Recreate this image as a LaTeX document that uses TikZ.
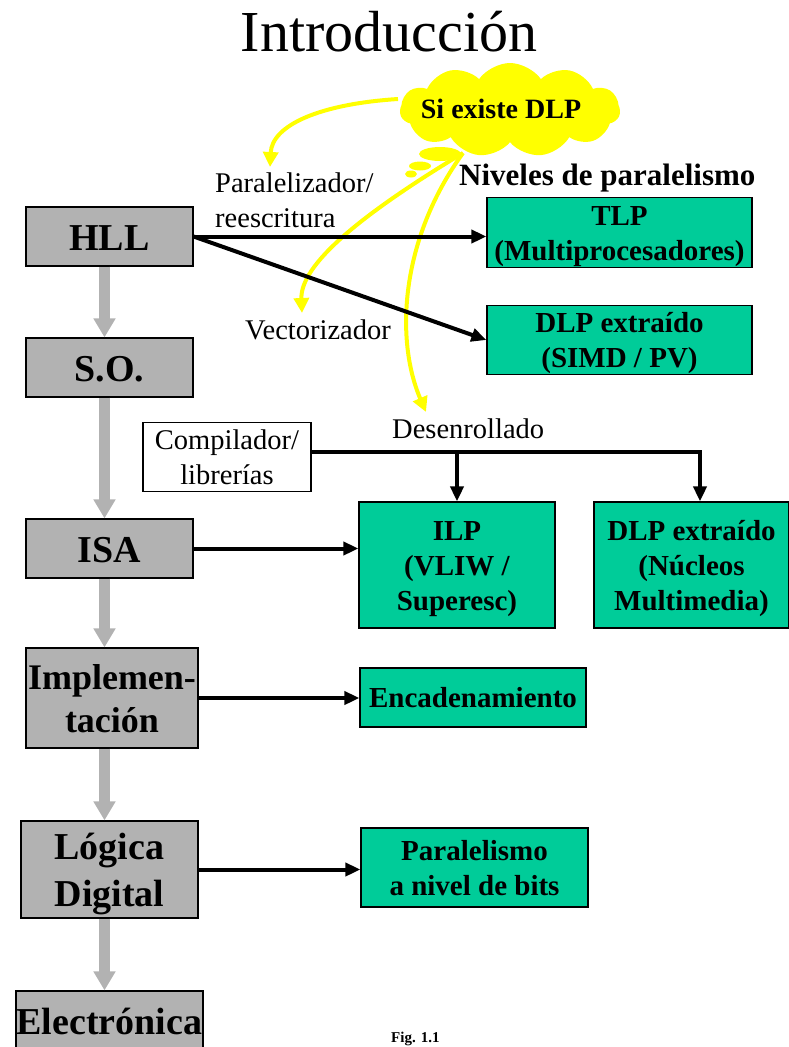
\documentclass[tikz,border=0pt]{standalone}
\usepackage{fontspec}
\setmainfont{Liberation Serif}
\usetikzlibrary{arrows.meta,shapes.symbols}
\definecolor{boxgray}{RGB}{178,178,178}
\definecolor{levelgreen}{RGB}{0,204,153}
\definecolor{hintyellow}{RGB}{255,255,0}
% fixed-height strut so every line box has the same height and depth
\newcommand\lnstrut{\rule[-0.23em]{0pt}{1.18em}}

\begin{document}
\begin{tikzpicture}[x=1pt,y=-1pt,
  box/.style={rectangle, draw=black, line width=1.2pt, inner sep=0pt, align=center},
  graybox/.style={box, fill=boxgray, font=\fontsize{38}{45}\selectfont\bfseries},
  greenbox/.style={box, fill=levelgreen, font=\fontsize{29}{35}\selectfont\bfseries},
  lbl/.style={inner sep=0pt, font=\fontsize{28.5}{35}\selectfont},
  flow/.style={line width=4pt, -{Triangle[width=13pt,length=15pt]}},
  down/.style={draw=boxgray, line width=11pt, -{Triangle[width=21pt,length=19pt]}},
  hint/.style={draw=hintyellow, line width=4pt, -{Triangle[width=15pt,length=15pt]}},
  puff/.style={fill=hintyellow, draw=none},
]
\useasboundingbox (0,0) rectangle (789,1047);

% title
\node[anchor=base, inner sep=0pt, font=\fontsize{58}{60}\selectfont] (title) at (389,51) {Introducción};

% abstraction levels (left column)
\node[graybox, minimum width=167pt, minimum height=59pt] (hll) at (109.5,236.5) {\lnstrut HLL};
\node[graybox, minimum width=167pt, minimum height=59pt] (so) at (109.5,367.5) {\lnstrut S.O.};
\node[graybox, minimum width=167pt, minimum height=59pt] (isa) at (109.5,548.5) {\lnstrut ISA};
\node[graybox, minimum width=172pt, minimum height=100pt, font=\fontsize{36}{42}\selectfont\bfseries] (impl) at (112,698) {\lnstrut Implemen-\\\lnstrut tación};
\node[graybox, minimum width=177pt, minimum height=97pt, font=\fontsize{38}{47}\selectfont\bfseries] (logica) at (109.5,869.5) {\lnstrut Lógica\\\lnstrut Digital};
\node[graybox, minimum width=187pt, minimum height=59pt] (elec) at (109.5,1020.5) {\lnstrut Electrónica};

% parallelism levels
\node[greenbox, minimum width=265pt, minimum height=69pt] (tlp) at (619.5,232.5) {\lnstrut TLP\\\lnstrut (Multiprocesadores)};
\node[greenbox, minimum width=265pt, minimum height=68pt] (dlpv) at (619.5,340) {\lnstrut DLP extraído\\\lnstrut (SIMD / PV)};
\node[greenbox, minimum width=196pt, minimum height=126pt] (ilp) at (457,565) {\lnstrut ILP\\\lnstrut (VLIW /\\\lnstrut Superesc)};
\node[greenbox, minimum width=195pt, minimum height=126pt] (dlpm) at (691.5,565) {\lnstrut DLP extraído\\\lnstrut (Núcleos\\\lnstrut Multimedia)};
\node[greenbox, minimum width=226pt, minimum height=59pt] (enc) at (473,697.5) {\lnstrut Encadenamiento};
\node[greenbox, minimum width=227pt, minimum height=79pt] (bits) at (474.5,867.5) {\lnstrut Paralelismo\\\lnstrut a nivel de bits};

% compiler box
\node[box, lbl, fill=white, line width=1.2pt, minimum width=168pt, minimum height=68pt] (comp) at (227,457) {\lnstrut Compilador/\\\lnstrut librerías};

% labels
\node[lbl, anchor=north west, align=left] (paral) at (215,165) {\lnstrut Paralelizador/\\\lnstrut reescritura};
\node[lbl, anchor=base west] (vect) at (245,339) {Vectorizador};
\node[lbl, anchor=base west] (desen) at (392,438) {Desenrollado};
\node[anchor=base west, inner sep=0pt, font=\fontsize{31}{35}\selectfont\bfseries] (niveles) at (459,185) {Niveles de paralelismo};
\node[anchor=base west, inner sep=0pt, font=\fontsize{15}{17}\selectfont\bfseries] (fig) at (391,1042.5) {Fig. 1.1};

% gray arrows between levels
\coordinate (ax) at (104.5,0);
\draw[down] (ax |- hll.south) -- (ax |- so.north);
\draw[down] (ax |- so.south) -- (ax |- isa.north);
\draw[down] (ax |- isa.south) -- (ax |- impl.north);
\draw[down] (ax |- impl.south) -- (ax |- logica.north);
\draw[down] (ax |- logica.south) -- (ax |- elec.north);

% yellow hints coming out of the cloud
\coordinate (cloudleft) at (398,99);
\coordinate (puffroot) at (463,153);
\coordinate (hintA) at (270,167);
\coordinate (hintB) at (302,313);
\coordinate (hintC) at (426,412);
\draw[hint] (cloudleft) .. controls (320,104) and (272,125) .. (hintA);
\draw[hint] (puffroot) .. controls (360,215) and (300,265) .. (hintB);
\draw[hint] (puffroot) .. controls (400,240) and (395,340) .. (hintC);

% cloud
\node[cloud, cloud puffs=11, cloud puff arc=110, aspect=2.3, fill=hintyellow, minimum width=220pt, minimum height=94pt, inner sep=0pt] (cloud) at (510,110) {};
\fill[puff] (440,154) ellipse [x radius=21, y radius=7];
\fill[puff] (420,166) ellipse [x radius=11, y radius=4.5];
\fill[puff] (411,174) ellipse [x radius=6, y radius=3.5];
\node[anchor=base, inner sep=0pt, font=\fontsize{28}{30}\selectfont\bfseries] (dlptext) at (501,118) {Si existe DLP};

% black connectors
\draw[flow] (hll.east) -- (hll.east -| tlp.west);
\draw[flow] (hll.east) -- (dlpv.west);
\draw[flow] (isa.east) -- (isa.east -| ilp.west);
\draw[flow] (impl.east) -- (impl.east -| enc.west);
\draw[flow] (logica.east) -- (logica.east -| bits.west);
\coordinate (bus) at ([yshift=5pt]comp.east);
\coordinate (busend) at (700,452);
\draw[flow, line join=miter] (bus) -- (busend) -- (busend |- dlpm.north);
\draw[flow] (bus -| ilp.north) -- (ilp.north);
\end{tikzpicture}
\end{document}
